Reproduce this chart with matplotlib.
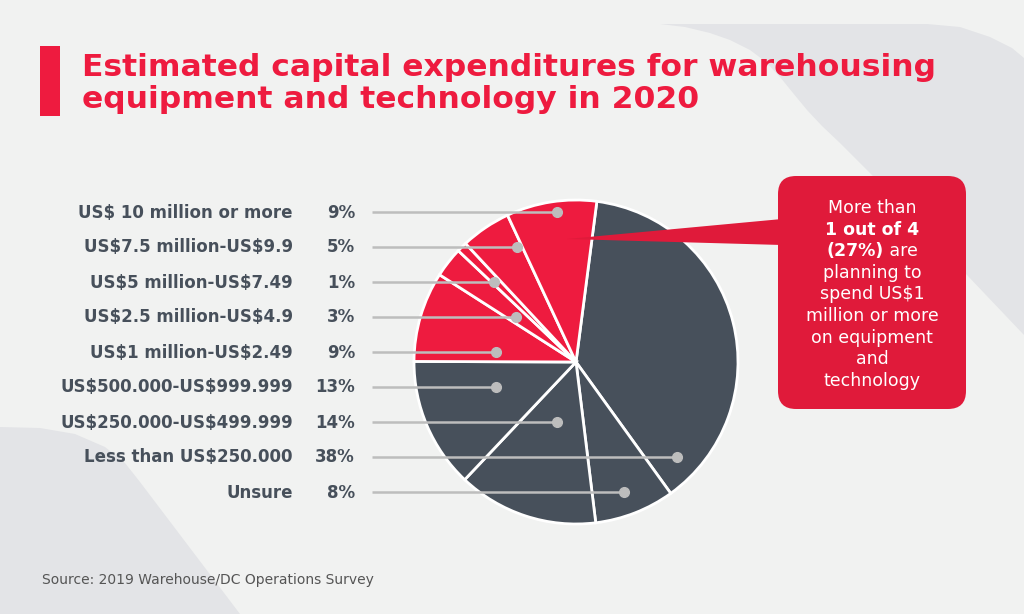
import matplotlib.pyplot as plt
import numpy as np
from matplotlib.patches import FancyBboxPatch, Polygon, Rectangle

# data, listed top to bottom as in the legend column
labels = ['US$ 10 million or more', 'US$7.5 million-US$9.9', 'US$5 million-US$7.49',
          'US$2.5 million-US$4.9', 'US$1 million-US$2.49', 'US$500.000-US$999.999',
          'US$250.000-US$499.999', 'Less than US$250.000', 'Unsure']
shares = [9, 5, 1, 3, 9, 13, 14, 38, 8]
is_million = [True, True, True, True, True, False, False, False, False]
# pie is drawn clockwise starting with the biggest slice
pie_order = [7, 8, 6, 5, 4, 3, 2, 1, 0]
# x of the marker dot for each row (px)
dot_x = [557, 517, 494, 516, 496, 496, 557, 677, 624]

W, H = 1024, 614
RED = '#EE1B3F'
BOX = '#E01A3A'
DARK = '#47505B'
BG = '#F1F2F1'
SHAPE = '#E3E4E7'


def Y(py):
    return H - py


fig = plt.figure(figsize=(10.24, 6.14), dpi=100)
fig.patch.set_facecolor(BG)
ax = fig.add_axes([0, 0, 1, 1])
ax.set_facecolor(BG)

# background shapes (pixel outlines, top-left origin)
top = [(660, 24), (927, 24), (960, 27), (990, 37), (1012, 48), (1024, 58),
       (1024, 335), (870, 173), (855, 158), (840, 143), (822, 126), (807, 110),
       (793, 93), (780, 77), (766, 62), (750, 50), (730, 40), (710, 33), (685, 27)]
ax.add_patch(Polygon([(x, Y(y)) for x, y in top], closed=True, fc=SHAPE, ec='none', zorder=0))
bl = [(0, 614), (0, 427), (40, 428), (75, 434), (105, 447), (125, 463), (140, 482), (240, 614)]
ax.add_patch(Polygon([(x, Y(y)) for x, y in bl], closed=True, fc=SHAPE, ec='none', zorder=0))

# title
ax.add_patch(Rectangle((40, Y(116)), 20, 70, fc=RED, ec='none'))
ax.text(82, Y(68), 'Estimated capital expenditures for warehousing', fontsize=22.6,
        fontweight='black', color=RED, va='center', ha='left')
ax.text(82, Y(99), 'equipment and technology in 2020', fontsize=22.6,
        fontweight='black', color=RED, va='center', ha='left')

# pie
cx, cy, r = 576, Y(362), 162
vals = [shares[i] for i in pie_order]
cols = [RED if is_million[i] else DARK for i in pie_order]
ax.pie(vals, colors=cols, startangle=82.6, counterclock=False, center=(cx, cy),
       radius=r, frame=True, wedgeprops=dict(edgecolor='white', linewidth=2))

# labels, leader lines and dots
row_y = 212
for i, (lab, s) in enumerate(zip(labels, shares)):
    y = Y(row_y + i * 35)
    ax.text(293, y + 1.5, lab, ha='right', va='center_baseline', fontsize=12, fontweight='bold',
            color=DARK, parse_math=False)
    ax.text(355, y + 1.5, f'{s}%', ha='right', va='center_baseline', fontsize=12,
            fontweight='bold', color=DARK)
    ax.plot([372, dot_x[i]], [y, y], color='#BDBDBD', lw=1.8, zorder=5, solid_capstyle='butt')
    ax.plot(dot_x[i], y, 'o', ms=7, color='#BDBDBD', zorder=6)

# callout
ax.add_patch(Polygon([(567, Y(239)), (782, Y(219)), (782, Y(245))], closed=True,
                     fc=BOX, ec='none', zorder=7))
ax.add_patch(FancyBboxPatch((778, Y(409)), 188, 233, boxstyle='round,pad=0,rounding_size=18',
                            fc=BOX, ec='none', zorder=8))
bx = 872
lines = ['More than', '1 out of 4', None, 'planning to', 'spend US$1',
         'million or more', 'on equipment', 'and', 'technology']
for k, ln in enumerate(lines):
    y = Y(206 + k * 21.6)
    if ln is None:
        continue
    ax.text(bx, y, ln, ha='center', va='center_baseline', fontsize=12.5, color='white', zorder=9,
            fontweight='bold' if k == 1 else 'normal', parse_math=False)
# mixed line "(27%) are"
fig.canvas.draw()
rend = fig.canvas.get_renderer()
y = Y(206 + 2 * 21.6)
t1 = ax.text(0, y, '(27%)', ha='left', va='center_baseline', fontsize=12.5, color='white',
             fontweight='bold', zorder=9)
t2 = ax.text(0, y, ' are', ha='left', va='center_baseline', fontsize=12.5, color='white',
             zorder=9)
w1 = t1.get_window_extent(rend).width
w2 = t2.get_window_extent(rend).width
x0 = bx - (w1 + w2) / 2
t1.set_x(x0)
t2.set_x(x0 + w1)

# source
ax.text(42, Y(580), 'Source: 2019 Warehouse/DC Operations Survey', fontsize=10,
        color='#555555', ha='left', va='center')

ax.set_xlim(0, W)
ax.set_ylim(0, H)
ax.set_aspect('equal')
ax.axis('off')
fig.savefig('out.png', dpi=100, facecolor=BG)
